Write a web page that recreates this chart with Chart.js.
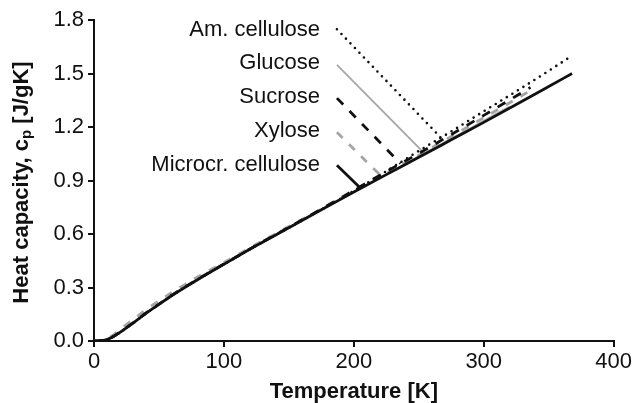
<!DOCTYPE html>
<html>
<head>
<meta charset="utf-8">
<script src="https://cdn.jsdelivr.net/npm/chart.js@4.4.0/dist/chart.umd.min.js"></script>
<style>
  html, body { margin: 0; padding: 0; background: #fff; }
  #wrap { width: 634px; height: 403px; }
</style>
</head>
<body>
<div id="wrap"><canvas id="cp"></canvas></div>
<script>
// heat capacity curves (T in K, cp in J/gK)
const tMicrocr = [0, 5, 10, 15, 20, 30, 40, 50, 60, 80, 100, 125, 150, 175, 200, 225, 250, 275, 300, 325, 350, 368];
const cpMicrocr = [0, 0.002, 0.008, 0.025, 0.048, 0.1, 0.155, 0.205, 0.255, 0.345, 0.43, 0.535, 0.635, 0.736, 0.835, 0.933, 1.03, 1.128, 1.226, 1.326, 1.427, 1.5];

const tAmCell = [0, 5, 10, 15, 20, 30, 40, 50, 60, 80, 100, 125, 150, 175, 200, 225, 250, 275, 300, 325, 350, 368];
const cpAmCell = [0, 0.002, 0.008, 0.025, 0.048, 0.1, 0.155, 0.205, 0.255, 0.345, 0.43, 0.535, 0.635, 0.737, 0.842, 0.952, 1.066, 1.175, 1.288, 1.4, 1.515, 1.6];

const tGlucose = [0, 5, 10, 15, 20, 30, 40, 50, 60, 80, 100, 125, 150, 175, 200, 225, 250, 275, 300, 320];
const cpGlucose = [0, 0.002, 0.008, 0.025, 0.048, 0.1, 0.155, 0.205, 0.255, 0.345, 0.43, 0.535, 0.635, 0.736, 0.836, 0.935, 1.035, 1.135, 1.235, 1.315];

const tSucrose = [0, 5, 10, 15, 20, 30, 40, 50, 60, 80, 100, 125, 150, 175, 200, 225, 250, 275, 300, 325, 336];
const cpSucrose = [0, 0.002, 0.008, 0.025, 0.05, 0.102, 0.157, 0.207, 0.257, 0.347, 0.432, 0.537, 0.638, 0.74, 0.845, 0.95, 1.052, 1.158, 1.265, 1.374, 1.422];

const tXylose = [0, 5, 10, 15, 20, 30, 40, 50, 60, 80, 100, 125, 150, 175, 200, 225, 250, 275, 300, 325, 336];
const cpXylose = [0, 0.003, 0.012, 0.035, 0.065, 0.12, 0.175, 0.225, 0.272, 0.36, 0.44, 0.542, 0.642, 0.74, 0.84, 0.94, 1.042, 1.147, 1.252, 1.357, 1.405];

// legend: label text, where the text sits and the leader line from text to curve
const legendNames = ['Am. cellulose', 'Glucose', 'Sucrose', 'Xylose', 'Microcr. cellulose'];
const legendTextY = [1.744, 1.558, 1.368, 1.179, 0.989];
const legendTextRightX = 174;
const leaderStartT = [187, 187, 187, 187, 187];
const leaderStartCp = [1.748, 1.549, 1.362, 1.17, 0.985];
const leaderEndT = [267, 253.6, 236, 221, 205];
const leaderEndCp = [1.14, 1.058, 0.995, 0.925, 0.858];

const xTicks = [0, 100, 200, 300, 400];
const yTicks = [0, 0.3, 0.6, 0.9, 1.2, 1.5, 1.8];

const BLACK = '#111111';
const GRAY = '#a6a6a6';

const styles = [
  { color: BLACK, width: 2.6, dash: [0, 6.5], cap: 'round', order: 1 },  // Am. cellulose
  { color: GRAY, width: 1.8, dash: [], cap: 'butt', order: 4 },          // Glucose
  { color: BLACK, width: 2.8, dash: [9, 9], cap: 'butt', order: 2 },     // Sucrose
  { color: GRAY, width: 2.8, dash: [8, 9], cap: 'butt', order: 3 },      // Xylose
  { color: BLACK, width: 2.8, dash: [], cap: 'butt', order: 0 }          // Microcr. cellulose
];

function pts(xs, ys) {
  return xs.map((x, i) => ({ x: x, y: ys[i] }));
}

const curves = [
  pts(tAmCell, cpAmCell),
  pts(tGlucose, cpGlucose),
  pts(tSucrose, cpSucrose),
  pts(tXylose, cpXylose),
  pts(tMicrocr, cpMicrocr)
];

const datasets = [];
curves.forEach((c, i) => {
  const s = styles[i];
  datasets.push({
    label: legendNames[i],
    data: c,
    borderColor: s.color,
    borderWidth: s.width,
    borderDash: s.dash,
    borderCapStyle: s.cap,
    pointRadius: 0,
    cubicInterpolationMode: 'monotone',
    order: s.order
  });
  datasets.push({
    label: legendNames[i] + ' leader',
    data: [{ x: leaderStartT[i], y: leaderStartCp[i] }, { x: leaderEndT[i], y: leaderEndCp[i] }],
    borderColor: s.color,
    borderWidth: s.width,
    borderDash: s.dash,
    borderCapStyle: s.cap,
    pointRadius: 0,
    order: s.order
  });
});

const FONT = "'Liberation Sans', Arial, Helvetica, sans-serif";

// legend texts next to the leader lines
const legendText = {
  id: 'legendText',
  afterDatasetsDraw(chart) {
    const { ctx, scales } = chart;
    ctx.save();
    ctx.font = '22px ' + FONT;
    ctx.fillStyle = BLACK;
    ctx.textAlign = 'right';
    ctx.textBaseline = 'middle';
    legendNames.forEach((n, i) => {
      ctx.fillText(n, scales.x.getPixelForValue(legendTextRightX), scales.y.getPixelForValue(legendTextY[i]));
    });
    ctx.restore();
  }
};

// y title with subscript p
const yTitle = {
  id: 'yTitle',
  afterDraw(chart) {
    const { ctx, chartArea } = chart;
    const parts = [
      { t: 'Heat capacity, c', f: 'bold 22px ' + FONT, dy: 0 },
      { t: 'p', f: 'bold 15px ' + FONT, dy: 5 },
      { t: ' [J/gK]', f: 'bold 22px ' + FONT, dy: 0 }
    ];
    ctx.save();
    let total = 0;
    parts.forEach(p => { ctx.font = p.f; p.w = ctx.measureText(p.t).width; total += p.w; });
    ctx.translate(22, (chartArea.top + chartArea.bottom) / 2 + 2);
    ctx.rotate(-Math.PI / 2);
    ctx.fillStyle = BLACK;
    ctx.textBaseline = 'middle';
    ctx.textAlign = 'left';
    let x = -total / 2;
    parts.forEach(p => {
      ctx.font = p.f;
      ctx.fillText(p.t, x, p.dy);
      x += p.w;
    });
    ctx.restore();
  }
};

new Chart(document.getElementById('cp'), {
  type: 'line',
  data: { datasets: datasets },
  options: {
    responsive: true,
    maintainAspectRatio: false,
    animation: false,
    events: [],
    layout: { padding: { top: 20, right: 19, left: 0, bottom: 0 } },
    plugins: {
      legend: { display: false },
      tooltip: { enabled: false }
    },
    scales: {
      x: {
        type: 'linear',
        min: 0,
        max: 400,
        afterBuildTicks: s => { s.ticks = xTicks.map(v => ({ value: v })); },
        afterFit: s => { s.height = 62; },
        border: { color: BLACK, width: 2 },
        grid: { drawOnChartArea: false, tickLength: 6, color: BLACK, lineWidth: 2 },
        ticks: { color: BLACK, font: { size: 22, family: FONT }, padding: 2, maxRotation: 0 },
        title: { display: true, text: 'Temperature [K]', color: BLACK, font: { size: 22, weight: 'bold', family: FONT, lineHeight: 1.05 }, padding: { top: 0, bottom: 0 } }
      },
      y: {
        type: 'linear',
        min: 0,
        max: 1.8,
        afterBuildTicks: s => { s.ticks = yTicks.map(v => ({ value: v })); },
        afterFit: s => { s.width = 94; },
        border: { color: BLACK, width: 2 },
        grid: { drawOnChartArea: false, tickLength: 6, color: BLACK, lineWidth: 2 },
        ticks: { color: BLACK, font: { size: 22, family: FONT }, padding: 4, callback: v => v.toFixed(1) }
      }
    }
  },
  plugins: [legendText, yTitle]
});
</script>
</body>
</html>
